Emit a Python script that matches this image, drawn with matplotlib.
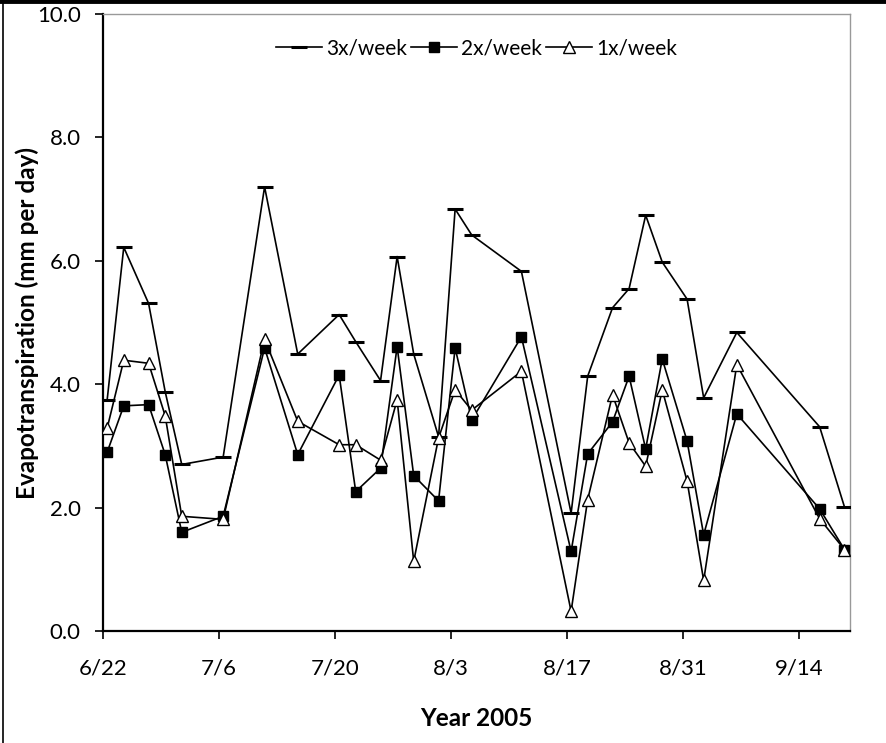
#!/usr/bin/env python3
# Evapotranspiration by irrigation frequency, summer 2005.
import numpy as np
import pandas as pd
import matplotlib
matplotlib.use("Agg")
import matplotlib.pyplot as plt
import matplotlib.dates as mdates
from matplotlib.lines import Line2D

dates = ["2005-06-22", "2005-06-24", "2005-06-27", "2005-06-29", "2005-07-01",
         "2005-07-06", "2005-07-11", "2005-07-15", "2005-07-20", "2005-07-22",
         "2005-07-25", "2005-07-27", "2005-07-29", "2005-08-01", "2005-08-03",
         "2005-08-05", "2005-08-11", "2005-08-17", "2005-08-19", "2005-08-22",
         "2005-08-24", "2005-08-26", "2005-08-28", "2005-08-31", "2005-09-02",
         "2005-09-06", "2005-09-16", "2005-09-19"]

et_3x = [3.75, 6.22, 5.31, 3.88, 2.70, 2.82, 7.20, 4.49, 5.13, 4.69,
         4.06, 6.07, 4.49, 3.15, 6.84, 6.42, 5.83, 1.91, 4.13, 5.24,
         5.55, 6.74, 5.98, 5.38, 3.78, 4.84, 3.31, 2.01]
et_2x = [2.90, 3.65, 3.67, 2.86, 1.60, 1.86, 4.59, 2.86, 4.15, 2.26,
         2.64, 4.61, 2.52, 2.11, 4.59, 3.42, 4.77, 1.29, 2.87, 3.39,
         4.13, 2.95, 4.41, 3.08, 1.56, 3.52, 1.98, 1.32]
et_1x = [3.29, 4.39, 4.34, 3.49, 1.86, 1.81, 4.73, 3.40, 3.02, 3.02,
         2.77, 3.75, 1.13, 3.13, 3.91, 3.58, 4.21, 0.32, 2.13, 3.83,
         3.05, 2.67, 3.91, 2.43, 0.82, 4.32, 1.82, 1.32]

tick_dates = ["2005-06-22", "2005-07-06", "2005-07-20", "2005-08-03",
              "2005-08-17", "2005-08-31", "2005-09-14"]
y_ticks = [0, 2, 4, 6, 8, 10]

plt.rcParams["font.family"] = ["Lato", "DejaVu Sans"]
plt.rcParams["font.size"] = 16

# Excel-style date axis: points sit in the middle of each day
x = pd.to_datetime(dates) + pd.Timedelta(hours=12)

fig = plt.figure(figsize=(8.86, 7.43), dpi=100)
ax = fig.add_axes([0.1163, 0.1507, 0.8427, 0.8303])

ax.plot(x, et_3x, color="black", lw=1.2, marker="_", ms=11, mew=2.2, label="3x/week", zorder=3)
ax.plot(x, et_2x, color="black", lw=1.2, marker="s", ms=7.5, mfc="black", mec="black",
        label="2x/week", zorder=4)
ax.plot(x, et_1x, color="black", lw=1.2, marker="^", ms=8, mfc="white", mec="black", mew=1.0,
        label="1x/week", zorder=5)

ax.set_xlim(pd.Timestamp("2005-06-22"), pd.Timestamp("2005-09-20 03:00"))
ax.set_ylim(0, 10)
ax.set_xticks(pd.to_datetime(tick_dates))
ax.xaxis.set_major_formatter(mdates.DateFormatter("%-m/%-d"))
ax.set_yticks(y_ticks)
ax.set_yticklabels([f"{v:.1f}" for v in y_ticks])
ax.tick_params(axis="both", direction="out", length=6, width=1.2, color="black", labelsize=16)
ax.tick_params(axis="x", pad=14)
ax.tick_params(axis="y", pad=10)

for s in ["left", "bottom"]:
    ax.spines[s].set_color("black")
    ax.spines[s].set_linewidth(1.6)
for s in ["top", "right"]:
    ax.spines[s].set_color("#999999")
    ax.spines[s].set_linewidth(1.0)

ax.set_ylabel("Evapotranspiration (mm per day)", fontweight="bold", fontsize=17.5)
ax.yaxis.set_label_coords(-0.086, 0.5)
ax.set_xlabel("Year 2005", fontweight="bold", fontsize=17.5, labelpad=20)

ax.legend(loc="center", bbox_to_anchor=(0.5, 0.945), ncol=3, frameon=False,
          handlelength=2.2, handletextpad=0.2, columnspacing=0.2, fontsize=15)

# outer frame of the figure
fig.add_artist(Line2D([0, 1], [0.998, 0.998], transform=fig.transFigure, color="black", lw=3.5))
fig.add_artist(Line2D([0.003, 0.003], [0, 1], transform=fig.transFigure, color="black", lw=1.2))

fig.savefig("out.png", dpi=100, facecolor="white")
